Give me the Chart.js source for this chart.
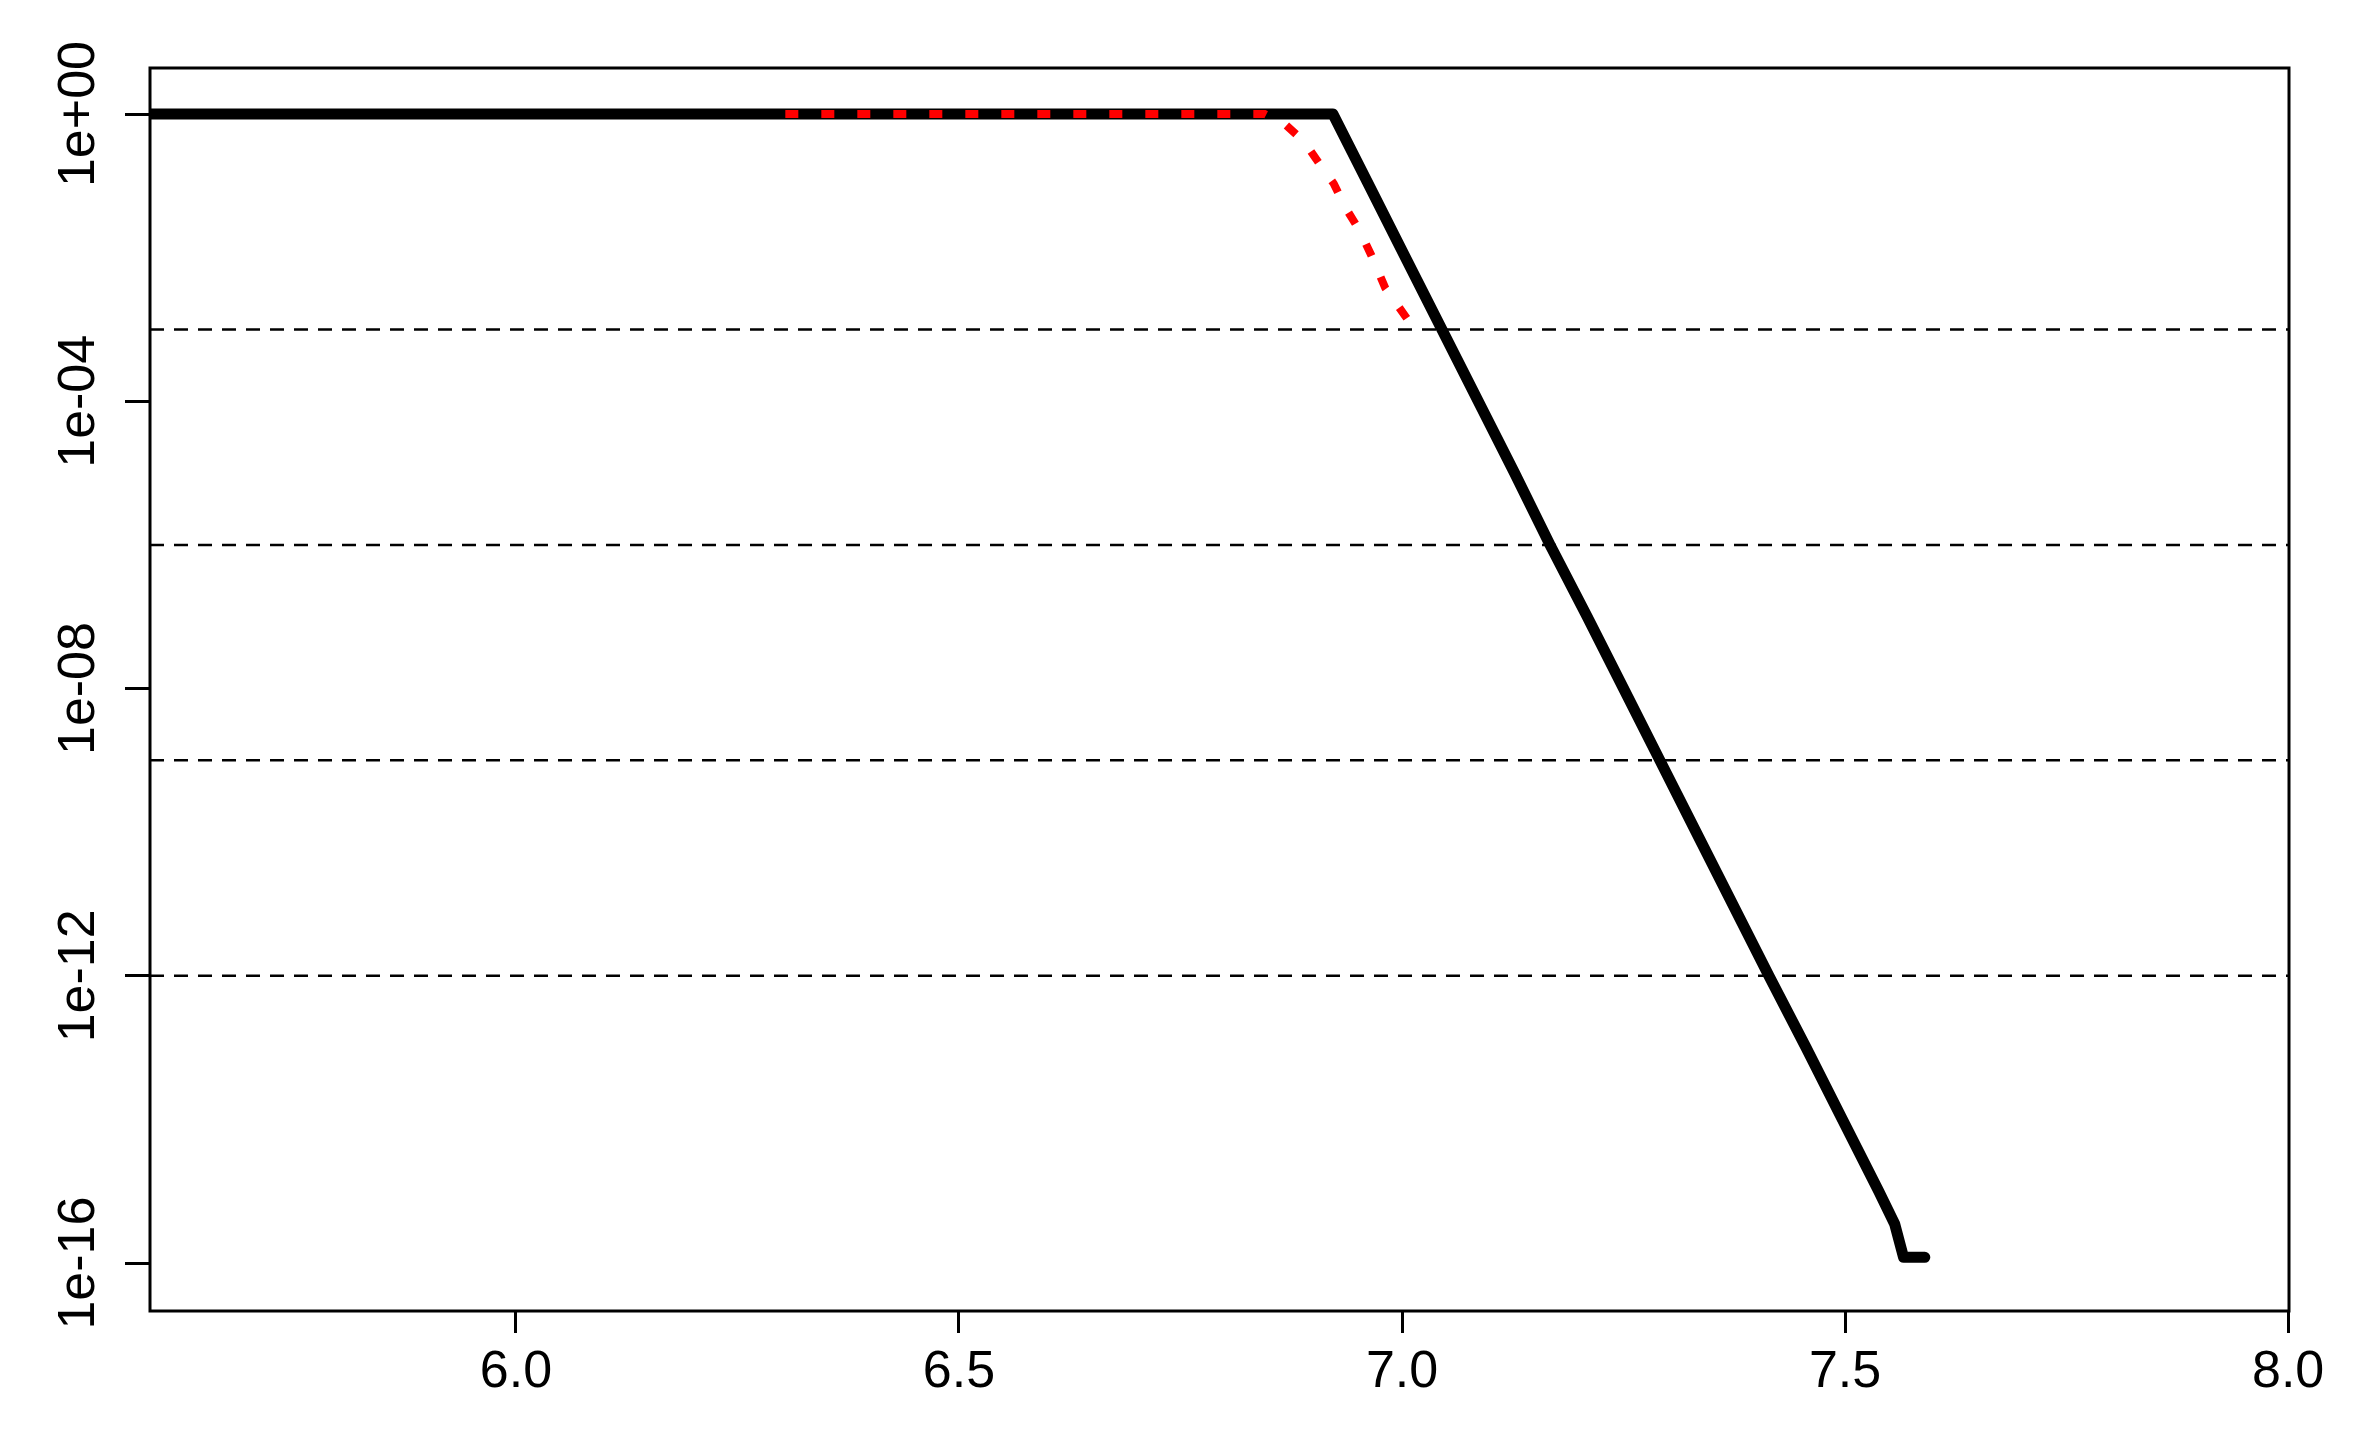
<!DOCTYPE html>
<html><head><meta charset="utf-8">
<script src="https://cdn.jsdelivr.net/npm/chart.js@4/dist/chart.umd.min.js"></script>
<style>html,body{margin:0;padding:0;background:#fff;overflow:hidden}canvas{display:block}</style>
</head><body>
<canvas id="c" width="2357" height="1435"></canvas>
<script>
// ---- data ----
const xTicks = [6.0, 6.5, 7.0, 7.5, 8.0];
const yTicks = [1, 1e-4, 1e-8, 1e-12, 1e-16];
const yTickLabels = ['1e+00', '1e-04', '1e-08', '1e-12', '1e-16'];
const refLevels = [1e-3, 1e-6, 1e-9, 1e-12];

const blackX = [5.55, 6.922, 6.963, 7.004, 7.045, 7.086, 7.127, 7.167, 7.209, 7.250, 7.291, 7.332, 7.373, 7.414, 7.456, 7.497, 7.538, 7.556, 7.566, 7.590];
const blackY = [1, 1, 1e-1, 1e-2, 1e-3, 1e-4, 1e-5, 1e-6, 1e-7, 1e-8, 1e-9, 1e-10, 1e-11, 1e-12, 1e-13, 1e-14, 1e-15, 3.5e-16, 1.2e-16, 1.2e-16];

const redX = [6.304, 6.845, 6.868, 6.889, 6.906, 6.923, 6.936, 6.952, 6.965, 6.981, 7.012];
const redY = [1, 1, 0.72, 0.42, 0.21, 0.107, 0.05, 0.024, 0.011, 0.0038, 0.0011];

// axis limits
const X_MIN = 5.587, X_MAX = 8.001;
const Y_MIN = 2.15e-17, Y_MAX = 4.375;

const FONT = "'Liberation Sans', Arial, sans-serif";
const toPts = (xs, ys) => xs.map((x, i) => ({x: x, y: ys[i]}));

const datasets = [];
datasets.push({
  label: 'red', data: toPts(redX, redY), borderColor: '#ff0000', borderWidth: 8,
  borderDash: [13, 23], borderCapStyle: 'butt', pointRadius: 0, order: 0, clip: 0, tension: 0
});
datasets.push({
  label: 'black', data: toPts(blackX, blackY), borderColor: '#000000', borderWidth: 11,
  borderCapStyle: 'round', borderJoinStyle: 'round', pointRadius: 0, order: 1, clip: 0, tension: 0
});
refLevels.forEach((lv, i) => {
  datasets.push({
    label: 'ref' + i, data: [{x: X_MIN, y: lv}, {x: X_MAX, y: lv}], borderColor: '#000000',
    borderWidth: 2.5, borderDash: [14, 10], borderCapStyle: 'butt', pointRadius: 0, order: 2, clip: 0
  });
});

const framePlugin = {
  id: 'frame',
  afterDatasetsDraw(chart) {
    const a = chart.chartArea, ctx = chart.ctx;
    ctx.save();
    ctx.strokeStyle = '#000';
    ctx.lineWidth = 3;
    ctx.strokeRect(a.left, a.top, a.right - a.left, a.bottom - a.top);
    ctx.restore();
  }
};

new Chart(document.getElementById('c'), {
  type: 'line',
  data: {datasets: datasets},
  plugins: [framePlugin],
  options: {
    responsive: false, devicePixelRatio: 1, animation: false,
    layout: {padding: {top: 68, right: 68, left: 0, bottom: 0}},
    plugins: {legend: {display: false}, tooltip: {enabled: false}},
    scales: {
      x: {
        type: 'linear', min: X_MIN, max: X_MAX, bounds: 'data',
        afterBuildTicks: s => { s.ticks = xTicks.map(v => ({value: v})); },
        afterFit: s => { s.height = 124; },
        ticks: {
          autoSkip: false, maxRotation: 0, minRotation: 0, padding: 8, color: '#000',
          font: {family: FONT, size: 52},
          callback: v => Number(v).toFixed(1)
        },
        grid: {display: true, drawOnChartArea: false, drawTicks: true, tickLength: 22, tickWidth: 3, tickColor: '#000', lineWidth: 3, color: '#000'},
        border: {display: false}
      },
      y: {
        type: 'logarithmic', min: Y_MIN, max: Y_MAX, bounds: 'data',
        afterBuildTicks: s => { s.ticks = yTicks.map(v => ({value: v})); },
        afterFit: s => { s.width = 150; },
        ticks: {
          autoSkip: false, minRotation: 90, maxRotation: 90, crossAlign: 'center', padding: -28, color: '#000',
          font: {family: FONT, size: 52},
          callback: (v, i) => yTickLabels[i]
        },
        grid: {display: true, drawOnChartArea: false, drawTicks: true, tickLength: 25, tickWidth: 3, tickColor: '#000', lineWidth: 3, color: '#000'},
        border: {display: false}
      }
    }
  }
});
</script>
</body></html>
